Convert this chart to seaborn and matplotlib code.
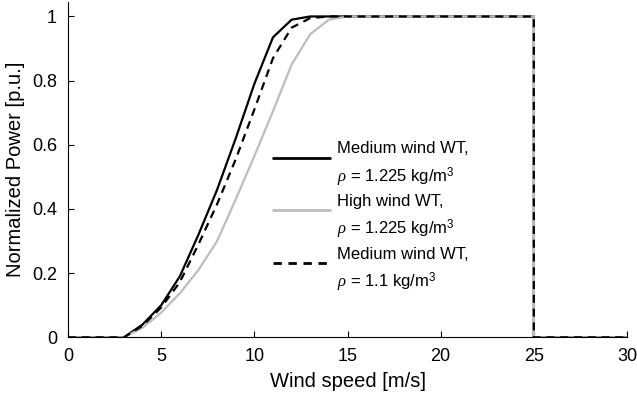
import numpy as np
import pandas as pd
import matplotlib
matplotlib.use("Agg")
import matplotlib.pyplot as plt
from matplotlib.lines import Line2D
from matplotlib.legend_handler import HandlerLine2D
import seaborn as sns

# ---- data ----
wind_speed = [0, 1, 2, 3, 4, 5, 6, 7, 8, 9, 10, 11, 12, 13, 14, 15, 16, 17, 18, 19,
              20, 21, 22, 23, 24, 25, 25, 26, 27, 28, 29, 30]
medium_1225 = [0, 0, 0, 0, 0.04, 0.10, 0.19, 0.32, 0.46, 0.62, 0.79, 0.935, 0.99, 1.0, 1.0, 1.0,
               1.0, 1.0, 1.0, 1.0, 1.0, 1.0, 1.0, 1.0, 1.0, 1.0, 0, 0, 0, 0, 0, 0]
high_1225 = [0, 0, 0, 0, 0.03, 0.077, 0.137, 0.21, 0.30, 0.43, 0.565, 0.705, 0.85, 0.945, 0.99, 1.0,
             1.0, 1.0, 1.0, 1.0, 1.0, 1.0, 1.0, 1.0, 1.0, 1.0, 0, 0, 0, 0, 0, 0]
medium_11 = [0, 0, 0, 0, 0.036, 0.093, 0.172, 0.29, 0.415, 0.555, 0.71, 0.87, 0.965, 0.995, 1.0, 1.0,
             1.0, 1.0, 1.0, 1.0, 1.0, 1.0, 1.0, 1.0, 1.0, 1.0, 0, 0, 0, 0, 0, 0]
labels = ["Medium wind WT,\n$\\rho$ = 1.225 kg/m$^3$",
          "High wind WT,\n$\\rho$ = 1.225 kg/m$^3$",
          "Medium wind WT,\n$\\rho$ = 1.1 kg/m$^3$"]
x_ticks = [0, 5, 10, 15, 20, 25, 30]
y_ticks = [0, 0.2, 0.4, 0.6, 0.8, 1]
y_tick_labels = ["0", "0.2", "0.4", "0.6", "0.8", "1"]

sns.set_style("ticks")
plt.rcParams["font.family"] = ["Liberation Sans", "DejaVu Sans"]
plt.rcParams["mathtext.fontset"] = "custom"
plt.rcParams["mathtext.rm"] = "Liberation Sans"
plt.rcParams["mathtext.it"] = "Liberation Serif:italic"
plt.rcParams["xtick.direction"] = "in"
plt.rcParams["ytick.direction"] = "in"
plt.rcParams["text.color"] = "black"
plt.rcParams["axes.labelcolor"] = "black"
plt.rcParams["xtick.color"] = "black"
plt.rcParams["ytick.color"] = "black"
plt.rcParams["axes.edgecolor"] = "black"


class ShiftedLineHandler(HandlerLine2D):
    def __init__(self, dy, **kw):
        super().__init__(**kw)
        self.dy = dy

    def create_artists(self, legend, orig_handle, xdescent, ydescent, width,
                       height, fontsize, trans):
        artists = super().create_artists(legend, orig_handle, xdescent, ydescent,
                                         width, height, fontsize, trans)
        for a in artists:
            a.set_ydata(np.asarray(a.get_ydata()) + self.dy)
        return artists


df = pd.DataFrame({"ws": wind_speed, "m1": medium_1225, "h1": high_1225, "m2": medium_11})

fig = plt.figure(figsize=(6.37, 4.04), dpi=100)
ax = fig.add_axes([0.1068, 0.165, 0.8775, 0.830])

sns.lineplot(data=df, x="ws", y="m1", ax=ax, estimator=None, sort=False,
             color="black", linewidth=1.6, label=labels[0])
sns.lineplot(data=df, x="ws", y="h1", ax=ax, estimator=None, sort=False,
             color="#bdbdbd", linewidth=1.6, label=labels[1])
sns.lineplot(data=df, x="ws", y="m2", ax=ax, estimator=None, sort=False,
             color="black", linewidth=1.6, label=labels[2])
ax.lines[2].set_linestyle((0, (3.6, 2.6)))

ax.set_xlim(0, 30)
ax.set_ylim(0, 1.045)
ax.set_xticks(x_ticks)
ax.set_yticks(y_ticks)
ax.set_yticklabels(y_tick_labels)
ax.tick_params(axis="x", labelsize=13, length=4, width=0.8, pad=8)
ax.tick_params(axis="y", labelsize=13, length=4, width=0.8, pad=8)
ax.set_xlabel("Wind speed [m/s]", fontsize=14.5, labelpad=5)
ax.set_ylabel("Normalized Power [p.u.]", fontsize=14.5, labelpad=5)
for s in ["top", "right"]:
    ax.spines[s].set_visible(False)
for s in ["left", "bottom"]:
    ax.spines[s].set_linewidth(0.8)

leg = ax.legend(loc="upper left", bbox_to_anchor=(0.355, 0.604), frameon=False,
                fontsize=12, handlelength=3.4, handletextpad=0.45, labelspacing=0.32,
                borderaxespad=0, handler_map={Line2D: ShiftedLineHandler(5.5)})
for t in leg.get_texts():
    t.set_linespacing(1.55)
for h in leg.get_lines():
    h.set_linewidth(2)
leg.get_lines()[2].set_linestyle((0, (3.0, 2.4)))

fig.savefig("out.png", dpi=100)
